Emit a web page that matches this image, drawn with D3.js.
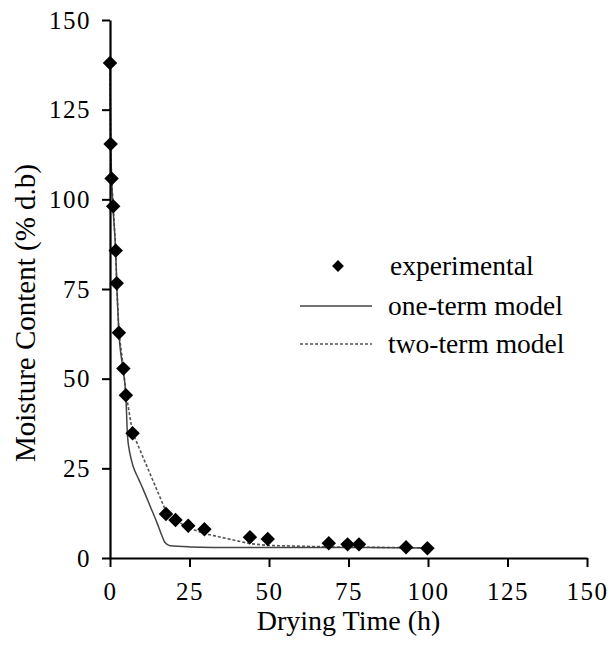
<!DOCTYPE html>
<html>
<head>
<meta charset="utf-8">
<script src="https://cdn.jsdelivr.net/npm/d3@7/dist/d3.min.js"></script>
<style>
  body { margin: 0; background: #fff; }
  svg text { font-family: "Liberation Serif", "Times New Roman", serif; fill: #000; }
</style>
</head>
<body>
<div id="chart"></div>
<script>
// experimental drying data (time h, moisture % d.b)
var expTime = [0, 0.2, 0.5, 1, 1.8, 2.1, 2.8, 4.2, 5, 7.1, 17.6, 20.6, 24.6, 29.7, 44, 49.6, 68.8, 74.7, 78.3, 93.1, 99.8];
var expMoisture = [138, 115.4, 105.8, 98.1, 85.7, 76.6, 62.8, 52.8, 45.4, 34.8, 12.3, 10.6, 9.0, 8.0, 5.8, 5.3, 4.1, 3.8, 3.8, 3.0, 2.7];

// one-term model curve
var oneTime = [0, 0.2, 0.5, 1, 1.8, 2.1, 2.8, 4.2, 5, 5.5, 6.3, 7.3, 9, 10.5, 12.6, 14.7, 16.2, 17.3, 18.9, 25, 40, 60, 80, 100];
var oneMoisture = [138, 116, 106, 97, 85, 77, 63, 52, 45, 34, 29, 25.5, 22, 19, 14.5, 10, 6.5, 4.3, 3.4, 3.1, 2.9, 2.9, 2.9, 2.8];

// two-term model curve
var twoTime = [0, 0.2, 0.5, 1, 1.8, 2.1, 2.8, 4.2, 5, 7.1, 17.6, 20.6, 24.6, 29.7, 44, 49.6, 68.8, 74.7, 78.3, 93.1, 99.8];
var twoMoisture = [138, 116, 106, 98, 86, 77, 63, 53, 46, 35, 13, 10.5, 8.5, 6.8, 4.0, 3.5, 3.1, 3.0, 3.0, 2.9, 2.8];

var xTicks = [0, 25, 50, 75, 100, 125, 150];
var yTicks = [0, 25, 50, 75, 100, 125, 150];

var width = 613, height = 645;

var svg = d3.select("#chart").append("svg")
  .attr("width", width)
  .attr("height", height);

var x = d3.scaleLinear().domain([0, 150]).range([110, 587]);
var y = d3.scaleLinear().domain([0, 150]).range([558, 20]);

// model lines
var smooth = d3.line()
  .x(function (d) { return x(d[0]); })
  .y(function (d) { return y(d[1]); })
  .curve(d3.curveMonotoneX);

var straight = d3.line()
  .x(function (d) { return x(d[0]); })
  .y(function (d) { return y(d[1]); });

svg.append("path")
  .datum(d3.zip(twoTime, twoMoisture))
  .attr("d", straight)
  .attr("fill", "none")
  .attr("stroke", "#555")
  .attr("stroke-width", 1.6)
  .attr("stroke-dasharray", "3,2");

svg.append("path")
  .datum(d3.zip(oneTime, oneMoisture))
  .attr("d", smooth)
  .attr("fill", "none")
  .attr("stroke", "#444")
  .attr("stroke-width", 1.5);

// axes
var xAxis = svg.append("g")
  .attr("transform", "translate(0," + y(0) + ")")
  .call(d3.axisBottom(x).tickValues(xTicks).tickSize(9).tickSizeOuter(0).tickPadding(15));

var yAxis = svg.append("g")
  .attr("transform", "translate(" + x(0) + ",0)")
  .call(d3.axisLeft(y).tickValues(yTicks).tickSize(8).tickSizeOuter(0).tickPadding(11));

[xAxis, yAxis].forEach(function (g) {
  g.attr("font-family", null);
  g.select(".domain").attr("stroke", "#000").attr("stroke-width", 2.2);
  g.selectAll(".tick line").attr("stroke", "#000").attr("stroke-width", 2);
  g.selectAll(".tick text")
    .style("font-size", "25px")
    .style("letter-spacing", "1.5px")
    .attr("fill", "#000");
});

// experimental points as diamonds
var diamond = d3.symbol().type(d3.symbolSquare).size(105);

svg.append("g").selectAll("path")
  .data(d3.zip(expTime, expMoisture))
  .enter().append("path")
  .attr("d", diamond)
  .attr("fill", "#000")
  .attr("transform", function (d) {
    return "translate(" + x(d[0]) + "," + y(d[1]) + ") rotate(45)";
  });

// axis titles
svg.append("text")
  .attr("x", (x(0) + x(150)) / 2)
  .attr("y", 630)
  .attr("text-anchor", "middle")
  .style("font-size", "28px")
  .text("Drying Time (h)");

svg.append("text")
  .attr("transform", "translate(35,313) rotate(-90)")
  .attr("text-anchor", "middle")
  .style("font-size", "29px")
  .text("Moisture Content (% d.b)");

// legend
var legend = svg.append("g");

legend.append("path")
  .attr("d", d3.symbol().type(d3.symbolSquare).size(70))
  .attr("transform", "translate(338,266) rotate(45)")
  .attr("fill", "#000");
legend.append("text")
  .attr("x", 390).attr("y", 275)
  .style("font-size", "27.5px")
  .text("experimental");

legend.append("line")
  .attr("x1", 300).attr("x2", 372)
  .attr("y1", 306).attr("y2", 306)
  .attr("stroke", "#444").attr("stroke-width", 1.5);
legend.append("text")
  .attr("x", 388).attr("y", 315)
  .style("font-size", "27.5px")
  .text("one-term model");

legend.append("line")
  .attr("x1", 300).attr("x2", 372)
  .attr("y1", 344).attr("y2", 344)
  .attr("stroke", "#555").attr("stroke-width", 1.6)
  .attr("stroke-dasharray", "3,2");
legend.append("text")
  .attr("x", 388).attr("y", 353)
  .style("font-size", "27.5px")
  .text("two-term model");
</script>
</body>
</html>
